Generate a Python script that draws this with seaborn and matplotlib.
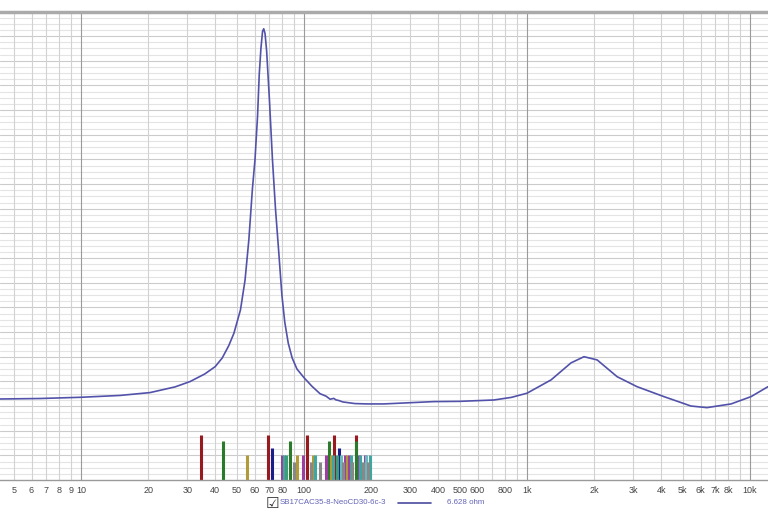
import numpy as np
import pandas as pd
import matplotlib
matplotlib.use("Agg")
import matplotlib.pyplot as plt
from matplotlib.lines import Line2D
import seaborn as sns

# impedance curve (Hz, ohm)
freq = [4.34, 6.55, 10.0, 15.0, 20.4, 26.4, 30.8, 35.9, 40.0, 43.0, 46.0, 48.5,
        51.9, 54.4, 56.6, 58.7, 60.3, 61.9, 63.0, 64.1, 65.2, 66.0, 66.9, 68.0,
        70.0, 72.2, 74.5, 76.9, 79.6, 82.0, 85.0, 88.5, 93.0, 100.0, 108.6,
        118.0, 125.6, 131.0, 136.0, 139.0, 143.0, 149.5, 169.0, 192.0, 228.0,
        383.0, 500.0, 711.0, 850.0, 1000.0, 1282.0, 1575.0, 1801.0, 2063.0,
        2535.0, 3114.0, 4115.0, 5435.0, 6410.0, 8222.0, 10100.0, 12040.0]
ohm = [6.57, 6.61, 6.71, 6.86, 7.09, 7.55, 7.98, 8.6, 9.2, 9.9, 10.9, 11.9,
       13.8, 16.2, 19.5, 23.6, 26.0, 29.5, 32.9, 35.0, 36.4, 36.6, 36.2, 34.8,
       30.8, 26.0, 22.0, 18.7, 15.0, 12.8, 11.1, 9.9, 9.0, 8.3, 7.6,
       7.0, 6.8, 6.55, 6.62, 6.5, 6.45, 6.33, 6.2, 6.17, 6.17,
       6.36, 6.38, 6.49, 6.7, 7.04, 8.12, 9.5, 10.0, 9.74,
       8.38, 7.57, 6.76, 6.0, 5.87, 6.17, 6.76, 7.57]

# marker bars at the bottom (Hz, height, colour)
bar_freq = [34.4, 43.2, 55.3, 69.0, 71.9, 79.4, 81.1, 83.0, 86.5, 90.0, 92.7,
            99.1, 103.4, 107.7, 110.0, 112.4, 117.4, 125.6, 129.2, 132.0, 134.6,
            137.0, 140.0, 142.9, 146.0, 149.1, 152.0, 155.5, 158.6, 162.0,
            165.0, 171.0, 171.0, 175.6, 179.0, 183.2, 187.0, 190.5, 194.6, 198.5]
bar_height = [3.68, 3.14, 2.05, 3.68, 2.6, 2.05, 2.05, 2.05, 3.14, 1.49, 2.05,
              2.05, 3.68, 1.49, 2.05, 2.05, 1.49, 2.05, 3.14, 2.05, 2.05,
              3.68, 2.05, 2.6, 2.05, 1.49, 2.05, 2.05, 2.05, 2.05,
              1.49, 3.68, 3.14, 2.05, 2.05, 1.49, 2.05, 2.05, 1.49, 2.05]
bar_color = ["red", "green", "olive", "red", "blue", "magenta", "teal", "sea",
             "green", "gray", "olive", "magenta", "red", "gray", "olive", "teal",
             "gray", "magenta", "green", "olive", "teal", "red", "sea", "blue",
             "cyan", "gray", "magenta", "olive", "magenta", "teal", "gray",
             "red", "green", "magenta", "teal", "gray", "magenta", "cyan",
             "gray", "teal"]

tick_vals = [5, 6, 7, 8, 9, 10, 20, 30, 40, 50, 60, 70, 80, 100, 200, 300, 400,
             500, 600, 800, 1000, 2000, 3000, 4000, 5000, 6000, 7000, 8000, 10000]
tick_text = ["5", "6", "7", "8", "9", "10", "20", "30", "40", "50", "60", "70",
             "80", "100", "200", "300", "400", "500", "600", "800", "1k", "2k",
             "3k", "4k", "5k", "6k", "7k", "8k", "10k"]

palette = {"red": "#971b1e", "green": "#2a7a2c", "olive": "#b09a3a",
           "blue": "#1c1c8a", "magenta": "#9b3fa0", "teal": "#3fa6a0",
           "sea": "#3f9c7a", "cyan": "#6ab8c0", "gray": "#888888"}

sns.set_theme(style="white")
plt.rcParams["font.family"] = ["Liberation Sans", "DejaVu Sans"]

fig = plt.figure(figsize=(7.68, 5.12), dpi=100)
ax = fig.add_axes([0, 32 / 512, 1, 1 - 32 / 512 - 11.5 / 512])
ax.set_xscale("log")
ax.set_xlim(4.334, 12040)
ax.set_ylim(0, 38)

# grid
for y in np.arange(0.5, 38, 0.5):
    major = abs(y / 2 - round(y / 2)) < 1e-6
    ax.axhline(y, color="#cbcbcb" if major else "#e4e4e4", lw=0.8, zorder=0)
for dec in [1, 10, 100, 1000, 10000]:
    for m in range(1, 10):
        f = dec * m
        if 4.334 < f < 12040:
            ax.axvline(f, color="#9a9a9a" if m == 1 else "#d2d2d2", lw=0.8, zorder=0)

# bars, tallest first so shorter ones sit in front
bars = pd.DataFrame({"f": bar_freq, "h": bar_height, "c": bar_color})
bars = bars.sort_values("h", ascending=False, kind="stable")
lc = ax.vlines(bars["f"], 0, bars["h"], colors=[palette[c] for c in bars["c"]],
               lw=2.2, zorder=2)
lc.set_capstyle("butt")

df = pd.DataFrame({"freq": freq, "ohm": ohm})
sns.lineplot(data=df, x="freq", y="ohm", ax=ax, color="#5252aa", lw=1.2,
             estimator=None, sort=False, zorder=3)

ax.set_xticks(tick_vals)
ax.set_xticklabels(tick_text, fontsize=6.5, color="#444444")
ax.xaxis.set_minor_locator(matplotlib.ticker.NullLocator())
ax.tick_params(axis="x", length=0, pad=4)
ax.set_yticks([])
ax.set_xlabel("")
ax.set_ylabel("")
for s in ["left", "right"]:
    ax.spines[s].set_visible(False)
ax.spines["bottom"].set_color("#9a9a9a")
ax.spines["bottom"].set_linewidth(1.0)
ax.spines["top"].set_color("#aaaaaa")
ax.spines["top"].set_linewidth(2.5)

# legend row
fig.text(266 / 768, 1 - 503 / 512, "\u2611", fontsize=11, color="#333333",
         va="center", ha="left", family="DejaVu Sans")
fig.text(280 / 768, 1 - 503 / 512, "SB17CAC35-8-NeoCD30-6c-3", fontsize=5.7,
         color="#6464b8", va="center", ha="left")
fig.add_artist(Line2D([398 / 768, 431 / 768], [1 - 503 / 512, 1 - 503 / 512],
                      color="#4a4aa0", lw=1.2, transform=fig.transFigure))
fig.text(447 / 768, 1 - 503 / 512, "6.628 ohm", fontsize=5.7, color="#6464b8",
         va="center", ha="left")

fig.savefig("out.png", dpi=100)
